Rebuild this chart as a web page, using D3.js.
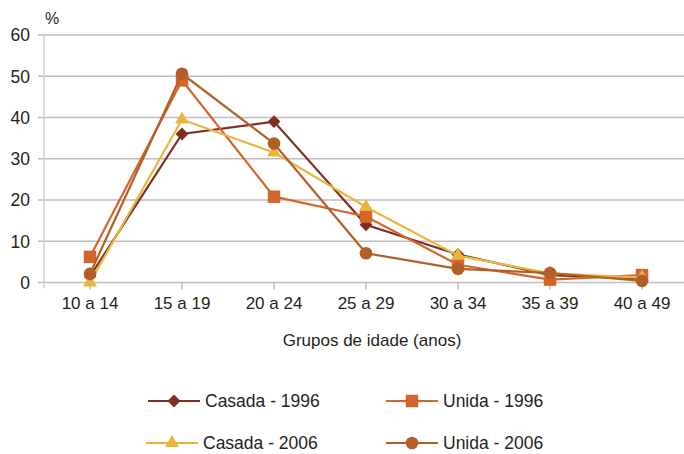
<!DOCTYPE html>
<html>
<head>
<meta charset="utf-8">
<script src="https://cdn.jsdelivr.net/npm/d3@7"></script>
<style>
  html, body { margin: 0; padding: 0; background: #fff; }
  svg { display: block; }
  text { font-family: "Liberation Sans", Arial, sans-serif; fill: #231f20; }
</style>
</head>
<body>
<svg id="chart" width="684" height="454"></svg>
<script>
// Age groups (x categories)
const categories = ["10 a 14", "15 a 19", "20 a 24", "25 a 29", "30 a 34", "35 a 39", "40 a 49"];
// Percentage by age group for each union type and survey year
const casada1996 = [1.5, 36, 39, 14, 6.8, 1.8, 1.0];
const unida1996  = [6.2, 49, 20.8, 16, 4.3, 0.7, 1.8];
const casada2006 = [0, 39.5, 31.5, 18.3, 6.5, 2.2, 1.2];
const unida2006  = [2.1, 50.6, 33.7, 7.1, 3.3, 2.3, 0.4];
const yTicks = [0, 10, 20, 30, 40, 50, 60];

const seriesList = [
  { name: "Casada - 1996", values: casada1996, color: "#7e2f22", symbol: "diamond" },
  { name: "Unida - 1996",  values: unida1996,  color: "#d4652c", symbol: "square" },
  { name: "Casada - 2006", values: casada2006, color: "#e8b63e", symbol: "triangle" },
  { name: "Unida - 2006",  values: unida2006,  color: "#b25f27", symbol: "circle" }
];

const svg = d3.select("#chart");
const plotLeft = 44, plotRight = 688, plotTop = 35, plotBottom = 282.5;

const x = d3.scaleBand().domain(categories).range([plotLeft, plotRight]);
const y = d3.scaleLinear().domain([0, 60]).range([plotBottom, plotTop]);
const cx = d => x(d) + x.bandwidth() / 2;

const gridColor = "#bdbdbd";

// Horizontal gridlines with left tick stubs
svg.append("g").selectAll("line").data(yTicks).join("line")
  .attr("x1", plotLeft - 6).attr("x2", 684)
  .attr("y1", d => y(d)).attr("y2", d => y(d))
  .attr("stroke", gridColor).attr("stroke-width", 1.5);

// Vertical axis line
svg.append("line")
  .attr("x1", plotLeft).attr("x2", plotLeft)
  .attr("y1", y(60)).attr("y2", plotBottom + 6)
  .attr("stroke", "#d0d0d0").attr("stroke-width", 1.5);

// X axis ticks at category centers
svg.append("g").selectAll("line").data(categories).join("line")
  .attr("x1", d => cx(d)).attr("x2", d => cx(d))
  .attr("y1", plotBottom).attr("y2", plotBottom + 7)
  .attr("stroke", gridColor).attr("stroke-width", 1.5);

// Y tick labels
svg.append("g").selectAll("text").data(yTicks).join("text")
  .attr("x", 30).attr("y", d => y(d))
  .attr("dy", "0.36em")
  .attr("text-anchor", "end")
  .attr("font-size", 17.5)
  .text(d => d);

// Unit label
svg.append("text")
  .attr("x", 45).attr("y", 24)
  .attr("font-size", 16)
  .text("%");

// X tick labels
svg.append("g").selectAll("text").data(categories).join("text")
  .attr("x", d => cx(d)).attr("y", 309)
  .attr("text-anchor", "middle")
  .attr("font-size", 17)
  .text(d => d);

// X axis title
svg.append("text")
  .attr("x", 372).attr("y", 346)
  .attr("text-anchor", "middle")
  .attr("font-size", 17)
  .text("Grupos de idade (anos)");

const symbolTypes = {
  diamond: { type: d3.symbolSquare, size: 82, rotate: 45 },
  square: { type: d3.symbolSquare, size: 155, rotate: 0 },
  triangle: { type: d3.symbolTriangle, size: 85, rotate: 0 },
  circle: { type: d3.symbolCircle, size: 125, rotate: 0 }
};

function drawMarker(g, symbol, color, px, py) {
  const s = symbolTypes[symbol];
  g.append("path")
    .attr("d", d3.symbol().type(s.type).size(s.size)())
    .attr("transform", `translate(${px},${py}) rotate(${s.rotate})`)
    .attr("fill", color);
}

const line = d3.line().x((d, i) => cx(categories[i])).y(d => y(d));

// Series lines and markers
seriesList.forEach(s => {
  const g = svg.append("g");
  g.append("path")
    .attr("d", line(s.values))
    .attr("fill", "none")
    .attr("stroke", s.color)
    .attr("stroke-width", 2.2);
  s.values.forEach((v, i) => drawMarker(g, s.symbol, s.color, cx(categories[i]), y(v)));
});

// Legend
const legendPos = [
  { lx: 148, ly: 401 },
  { lx: 386, ly: 401 },
  { lx: 146, ly: 443 },
  { lx: 386, ly: 443 }
];
seriesList.forEach((s, i) => {
  const p = legendPos[i];
  const g = svg.append("g");
  g.append("line")
    .attr("x1", p.lx).attr("x2", p.lx + 52)
    .attr("y1", p.ly).attr("y2", p.ly)
    .attr("stroke", s.color).attr("stroke-width", 2.2);
  drawMarker(g, s.symbol, s.color, p.lx + 26, p.ly);
  g.append("text")
    .attr("x", p.lx + 57).attr("y", p.ly)
    .attr("dy", "0.36em")
    .attr("font-size", 17.5)
    .text(s.name);
});
</script>
</body>
</html>
